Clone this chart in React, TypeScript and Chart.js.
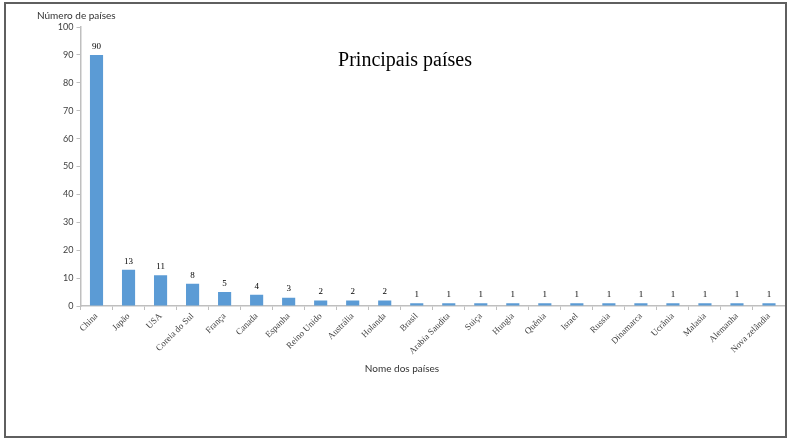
import React, { useEffect, useRef } from "react";
import { Chart, registerables } from "chart.js";

Chart.register(...registerables);

const categories = [
  "China", "Japão", "USA", "Coreia do Sul", "França", "Canada", "Espanha",
  "Reino Unido", "Austrália", "Holanda", "Brasil", "Arabia Saudita", "Suiça",
  "Hungia", "Quênia", "Israel", "Russia", "Dinamarca", "Ucrânia", "Malasia",
  "Alemanha", "Nova zelândia",
];
const values = [90, 13, 11, 8, 5, 4, 3, 2, 2, 2, 1, 1, 1, 1, 1, 1, 1, 1, 1, 1, 1, 1];
const yTicks = [0, 10, 20, 30, 40, 50, 60, 70, 80, 90, 100];
const chartTitle = "Principais países";
const yTitle = "Número de países";
const xTitle = "Nome dos países";

const extraText = {
  id: "extraText",
  afterDatasetsDraw(chart: any) {
    const ctx = chart.ctx;
    ctx.save();
    // data labels
    const meta = chart.getDatasetMeta(0);
    ctx.font = '9px "Liberation Serif"';
    ctx.fillStyle = "#000";
    ctx.textAlign = "center";
    ctx.textBaseline = "bottom";
    meta.data.forEach((bar: any, i: number) => {
      ctx.fillText(String(values[i]), bar.x, bar.y - 4);
    });
    // chart title
    ctx.font = '20px "Liberation Serif"';
    ctx.textBaseline = "middle";
    ctx.fillText(chartTitle, 405, 61);
    // y title
    ctx.font = '10px Lato';
    ctx.fillStyle = "#333";
    ctx.textAlign = "left";
    ctx.fillText(yTitle, 37, 16);
    // x title
    ctx.textAlign = "center";
    ctx.fillText(xTitle, 402, 369);
    ctx.restore();
  },
};

export default function App() {
  const ref = useRef<HTMLCanvasElement>(null);
  useEffect(() => {
    if (!ref.current) return;
    const chart = new Chart(ref.current, {
      type: "bar",
      data: {
        labels: categories,
        datasets: [
          {
            data: values,
            backgroundColor: "#5b9bd5",
            barPercentage: 0.41,
            categoryPercentage: 1,
          },
        ],
      },
      options: {
        animation: false,
        responsive: false,
        maintainAspectRatio: false,
        layout: { padding: { left: 0, right: 2, top: 27, bottom: 0 } },
        plugins: {
          legend: { display: false },
          tooltip: { enabled: false },
          title: { display: false },
        },
        scales: {
          x: {
            afterFit: (s: any) => {
              s.height = 132;
            },
            grid: {
              display: true,
              drawOnChartArea: false,
              drawTicks: true,
              tickLength: 4,
              color: "#bfbfbf",
              offset: true,
            },
            border: { color: "#bfbfbf", width: 1.5 },
            ticks: {
              autoSkip: false,
              minRotation: 45,
              maxRotation: 45,
              padding: 1,
              color: "#404040",
              font: { family: "Liberation Serif", size: 9 },
            },
          },
          y: {
            min: 0,
            max: 100,
            afterFit: (s: any) => {
              s.width = 80.5;
            },
            afterBuildTicks: (s: any) => {
              s.ticks = yTicks.map((v) => ({ value: v }));
            },
            grid: {
              display: true,
              drawOnChartArea: false,
              drawTicks: true,
              tickLength: 4,
              color: "#bfbfbf",
            },
            border: { color: "#bfbfbf", width: 1.5 },
            ticks: {
              padding: 3,
              color: "#404040",
              font: { family: "Lato", size: 9 },
            },
          },
        },
      },
      plugins: [extraText],
    });
    return () => chart.destroy();
  }, []);
  return (
    <div style={{ position: "fixed", left: 0, top: 0, width: 787, height: 438, background: "#fff" }}>
      <canvas ref={ref} width={787} height={438} style={{ position: "absolute", left: 0, top: 0, width: 787, height: 438 }} />
      <div
        style={{
          position: "absolute",
          left: 4,
          top: 2,
          width: 779,
          height: 432,
          border: "2px solid #5f5f5f",
          pointerEvents: "none",
        }}
      />
    </div>
  );
}
